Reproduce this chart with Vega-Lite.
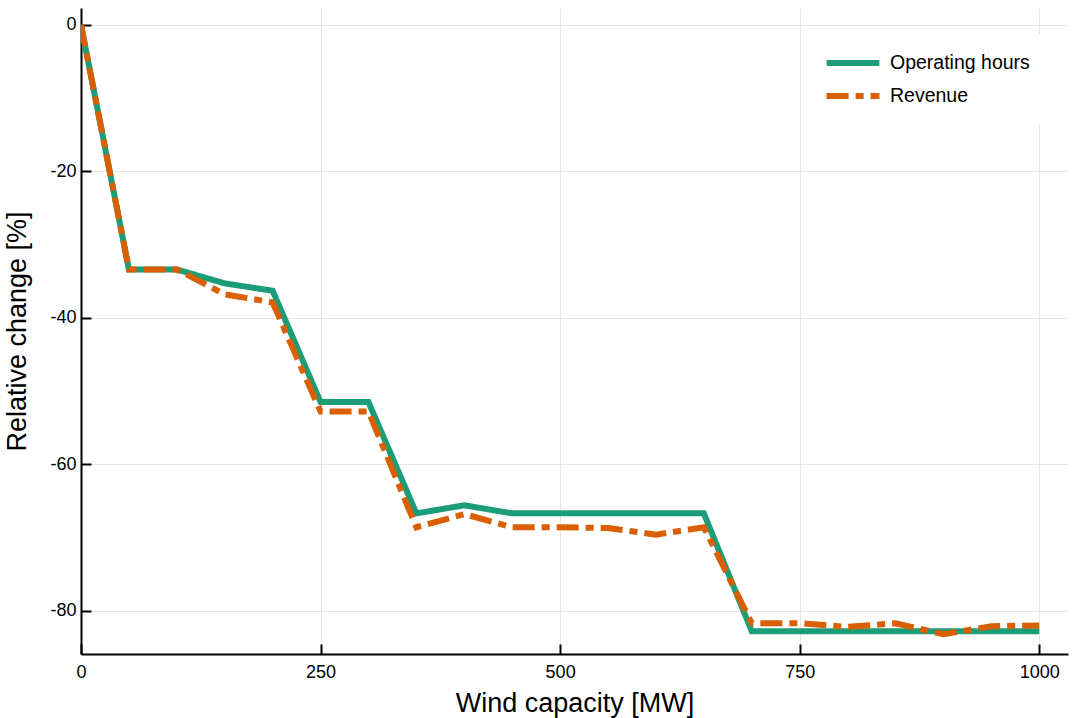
{
  "$schema": "https://vega.github.io/schema/vega-lite/v6.json",
  "width": 987,
  "height": 646,
  "autosize": {"type": "none"},
  "padding": {"left": 81, "top": 8, "right": 8, "bottom": 64},
  "background": "white",
  "config": {
    "view": {"stroke": null},
    "font": "Liberation Sans",
    "axis": {
      "domainColor": "black",
      "domainWidth": 2,
      "tickColor": "black",
      "tickWidth": 2,
      "tickSize": -10,
      "gridColor": "#e6e6e6",
      "gridWidth": 1,
      "labelFontSize": 18,
      "labelColor": "black",
      "labelFlush": false,
      "titleFontSize": 27,
      "titleFontWeight": "normal",
      "titleColor": "black",
      "labelFont": "Liberation Sans",
      "titleFont": "Liberation Sans"
    }
  },
  "data": {
    "values": [
      {"capacity": 0, "series": "Operating hours", "value": 0},
      {"capacity": 50, "series": "Operating hours", "value": -33.4},
      {"capacity": 100, "series": "Operating hours", "value": -33.4},
      {"capacity": 150, "series": "Operating hours", "value": -35.3},
      {"capacity": 200, "series": "Operating hours", "value": -36.3},
      {"capacity": 250, "series": "Operating hours", "value": -51.5},
      {"capacity": 300, "series": "Operating hours", "value": -51.5},
      {"capacity": 350, "series": "Operating hours", "value": -66.7},
      {"capacity": 400, "series": "Operating hours", "value": -65.6},
      {"capacity": 450, "series": "Operating hours", "value": -66.7},
      {"capacity": 500, "series": "Operating hours", "value": -66.7},
      {"capacity": 550, "series": "Operating hours", "value": -66.7},
      {"capacity": 600, "series": "Operating hours", "value": -66.7},
      {"capacity": 650, "series": "Operating hours", "value": -66.7},
      {"capacity": 700, "series": "Operating hours", "value": -82.8},
      {"capacity": 750, "series": "Operating hours", "value": -82.8},
      {"capacity": 800, "series": "Operating hours", "value": -82.8},
      {"capacity": 850, "series": "Operating hours", "value": -82.8},
      {"capacity": 900, "series": "Operating hours", "value": -82.8},
      {"capacity": 950, "series": "Operating hours", "value": -82.8},
      {"capacity": 1000, "series": "Operating hours", "value": -82.8},
      {"capacity": 0, "series": "Revenue", "value": 0},
      {"capacity": 50, "series": "Revenue", "value": -33.4},
      {"capacity": 100, "series": "Revenue", "value": -33.4},
      {"capacity": 150, "series": "Revenue", "value": -36.8},
      {"capacity": 200, "series": "Revenue", "value": -37.9},
      {"capacity": 250, "series": "Revenue", "value": -52.8},
      {"capacity": 300, "series": "Revenue", "value": -52.8},
      {"capacity": 350, "series": "Revenue", "value": -68.6},
      {"capacity": 400, "series": "Revenue", "value": -66.8},
      {"capacity": 450, "series": "Revenue", "value": -68.6},
      {"capacity": 500, "series": "Revenue", "value": -68.6},
      {"capacity": 550, "series": "Revenue", "value": -68.7},
      {"capacity": 600, "series": "Revenue", "value": -69.6},
      {"capacity": 650, "series": "Revenue", "value": -68.6},
      {"capacity": 700, "series": "Revenue", "value": -81.7},
      {"capacity": 750, "series": "Revenue", "value": -81.7},
      {"capacity": 800, "series": "Revenue", "value": -82.2},
      {"capacity": 850, "series": "Revenue", "value": -81.7},
      {"capacity": 900, "series": "Revenue", "value": -83.2},
      {"capacity": 950, "series": "Revenue", "value": -82.1},
      {"capacity": 1000, "series": "Revenue", "value": -82.0}
    ]
  },
  "mark": {"type": "line", "strokeWidth": 6, "clip": true},
  "encoding": {
    "x": {
      "field": "capacity",
      "type": "quantitative",
      "scale": {"domain": [0, 1030], "nice": false, "zero": false},
      "axis": {
        "values": [0, 250, 500, 750, 1000],
        "title": "Wind capacity [MW]",
        "labelPadding": 19,
        "titlePadding": 9,
        "labelExpr": "'' + datum.value"
      }
    },
    "y": {
      "field": "value",
      "type": "quantitative",
      "scale": {"domain": [-85.9, 2.3], "nice": false, "zero": false},
      "axis": {
        "values": [0, -20, -40, -60, -80],
        "title": "Relative change [%]",
        "labelPadding": 15,
        "titlePadding": 18,
        "labelExpr": "'' + datum.value"
      }
    },
    "color": {
      "field": "series",
      "type": "nominal",
      "scale": {"domain": ["Operating hours", "Revenue"], "range": ["#1b9e77", "#d95f02"]},
      "legend": {
        "title": null,
        "orient": "none",
        "legendX": 726,
        "legendY": 26,
        "fillColor": "white",
        "padding": 15,
        "symbolType": "M-2.4,0H2.4",
        "symbolSize": 484,
        "symbolOffset": 17,
        "symbolStrokeWidth": 6,
        "labelFontSize": 19.5,
        "labelColor": "black",
        "labelOffset": 23,
        "rowPadding": 7,
        "labelFont": "Liberation Sans"
      }
    },
    "strokeDash": {
      "field": "series",
      "type": "nominal",
      "scale": {"domain": ["Operating hours", "Revenue"], "range": [[1, 0], [22, 7, 8, 7]]},
      "legend": {
        "title": null,
        "orient": "none",
        "legendX": 726,
        "legendY": 26,
        "fillColor": "white",
        "padding": 15,
        "symbolType": "M-2.4,0H2.4",
        "symbolSize": 484,
        "symbolOffset": 17,
        "symbolStrokeWidth": 6,
        "labelFontSize": 19.5,
        "labelColor": "black",
        "labelOffset": 23,
        "rowPadding": 7,
        "labelFont": "Liberation Sans"
      }
    }
  }
}
